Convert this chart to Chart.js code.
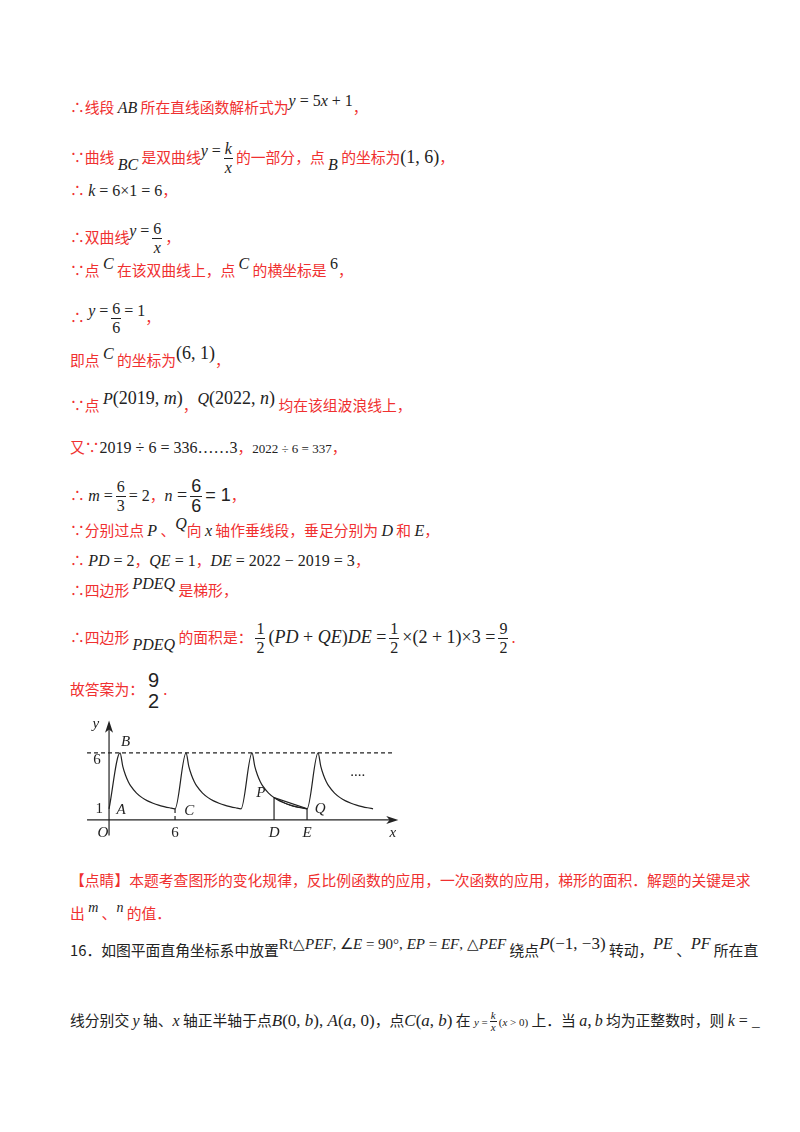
<!DOCTYPE html>
<html><head><meta charset="utf-8">
<script src="https://cdn.jsdelivr.net/npm/chart.js@4"></script>
<style>
body{margin:0;background:#fff;width:800px;height:1132px;position:relative;font-family:"Noto Sans CJK SC",sans-serif;}
.l{position:absolute;left:70px;font-size:14.8px;color:#f03030;white-space:nowrap;line-height:20px;}
.m{font-family:"Liberation Serif",serif;font-style:italic;color:#222;font-size:16px;}
.n{font-family:"Liberation Serif",serif;color:#222;font-size:16px;}
.f{display:inline-block;vertical-align:middle;text-align:center;font-family:"Liberation Serif",serif;color:#222;font-size:16px;line-height:18px;margin:0 3px;}
.f span{display:block;}
.f .t{border-bottom:1px solid #222;padding:0 1px;}
.sub{position:relative;top:7px;}
.sup{position:relative;top:-7px;}
#c{position:absolute;left:80px;top:720px;}
</style></head><body>
<div class="l" style="top:97px">∴线段 <span class="m">AB</span> 所在直线函数解析式为<span class="m sup">y</span><span class="n sup"> = 5</span><span class="m sup">x</span><span class="n sup"> + 1</span>，</div>
<div class="l" style="top:140px">∵曲线 <span class="m sub">BC</span> 是双曲线<span class="m sup">y</span><span class="n sup"> =</span><span class="f"><span class="t m">k</span><span class="m">x</span></span>的一部分，点 <span class="m sub">B</span> 的坐标为<span class="n" style="font-size:18px">(1, 6)</span>，</div>
<div class="l" style="top:180px">∴ <span class="m">k</span><span class="n"> = 6×1 = 6</span>，</div>
<div class="l" style="top:220px">∴双曲线<span class="m sup">y</span><span class="n sup"> =</span><span class="f"><span class="t">6</span><span class="m">x</span></span>，</div>
<div class="l" style="top:260px">∵点 <span class="m sup">C</span> 在该双曲线上，点 <span class="m sup">C</span> 的横坐标是 <span class="n sup">6</span>，</div>
<div class="l" style="top:300px">∴ <span class="m sup">y</span><span class="n sup"> =</span><span class="f"><span class="t">6</span><span>6</span></span><span class="n sup">= 1</span>，</div>
<div class="l" style="top:350px">即点 <span class="m sup">C</span> 的坐标为<span class="n sup" style="font-size:18px">(6, 1)</span>，</div>
<div class="l" style="top:395px">∵点 <span class="m sup">P</span><span class="n sup" style="font-size:18px">(2019, <i>m</i>)</span>，<span class="m sup">Q</span><span class="n sup" style="font-size:18px">(2022, <i>n</i>)</span> 均在该组波浪线上，</div>
<div class="l" style="top:437px">又∵<span class="n">2019 ÷ 6 = 336……3</span>，<span class="n" style="font-size:13px">2022 ÷ 6 = 337</span>，</div>
<div class="l" style="top:477px">∴ <span class="m">m</span><span class="n"> =</span><span class="f"><span class="t">6</span><span>3</span></span><span class="n">= 2</span>，<span class="m">n</span><span class="n" style="font-size:18px"> =</span><span class="f" style="font-size:18px;line-height:19px;font-family:'Liberation Sans'"><span class="t">6</span><span>6</span></span><span class="n" style="font-size:18px;font-family:'Liberation Sans'">= 1</span>，</div>
<div class="l" style="top:520px">∵分别过点 <span class="m">P</span> 、<span class="m sup">Q</span>向 <span class="m">x</span> 轴作垂线段，垂足分别为 <span class="m">D</span> 和 <span class="m">E</span>，</div>
<div class="l" style="top:550px">∴ <span class="m">PD</span><span class="n"> = 2</span>，<span class="m">QE</span><span class="n"> = 1</span>，<span class="m">DE</span><span class="n"> = 2022 − 2019 = 3</span>，</div>
<div class="l" style="top:580px">∴四边形 <span class="m sup">PDEQ</span> 是梯形，</div>
<div class="l" style="top:620px">∴四边形 <span class="m sub">PDEQ</span> 的面积是：<span class="f"><span class="t">1</span><span>2</span></span><span class="n" style="font-size:18px">(<i>PD</i> + <i>QE</i>)<i>DE</i> =</span><span class="f"><span class="t">1</span><span>2</span></span><span class="n" style="font-size:18px">×(2 + 1)×3 =</span><span class="f"><span class="t">9</span><span>2</span></span>.</div>
<div class="l" style="top:670px">故答案为：<span class="f" style="font-size:20px;line-height:21px;font-family:'Liberation Sans'"><span class="t" style="border:none">9</span><span>2</span></span>.</div>
<canvas id="c" width="320" height="130"></canvas>
<div class="l" style="top:870px">【点睛】本题考查图形的变化规律，反比例函数的应用，一次函数的应用，梯形的面积．解题的关键是求</div>
<div class="l" style="top:903px">出 <span class="m sup" style="font-size:14px">m</span> 、<span class="m sup" style="font-size:14px">n</span> 的值．</div>
<div class="l" style="top:940px;color:#222">16．如图平面直角坐标系中放置<span class="n sup" style="font-size:15px">Rt△<i>PEF</i>, ∠<i>E</i> = 90°, <i>EP</i> = <i>EF</i>, △<i>PEF</i></span> 绕点<span class="n sup" style="font-size:17px"><i>P</i>(−1, −3)</span> 转动，<span class="m sup">PE</span> 、<span class="m sup">PF</span> 所在直</div>
<div class="l" style="top:1010px;color:#222">线分别交 <span class="m">y</span> 轴、<span class="m">x</span> 轴正半轴于点<span class="n" style="font-size:17px"><i>B</i>(0, <i>b</i>), <i>A</i>(<i>a</i>, 0)</span>，点<span class="n" style="font-size:17px"><i>C</i>(<i>a</i>, <i>b</i>)</span> 在 <span class="n" style="font-size:11px;vertical-align:middle"><i>y</i> =</span><span class="f" style="font-size:11px;line-height:11px;margin:0 2px"><span class="t m" style="font-size:11px">k</span><span class="m" style="font-size:11px">x</span></span><span class="n" style="font-size:11px;vertical-align:middle">(<i>x</i> &gt; 0)</span> 上．当 <span class="m">a</span>, <span class="m">b</span> 均为正整数时，则 <span class="m">k</span><span class="n"> = </span>_</div>
<script>
// one period of the wave: rise A(0,1)->B(1,6), then hyperbola y=6/x to (6,1)
const periodX = [0, 1, 1.25, 1.5, 1.75, 2, 2.5, 3, 3.5, 4, 4.5, 5, 5.5, 6];
const periodY = [1, 6, 4.8, 4, 3.43, 3, 2.4, 2, 1.71, 1.5, 1.33, 1.2, 1.09, 1];
const periodStarts = [0, 6, 12, 18];
const pointP = [15, 2];
const pointQ = [18, 1];
const xTickLabels = [["O", 0], ["6", 6], ["D", 15], ["E", 18]];
const wave = [];
periodStarts.forEach(s => periodX.forEach((x, i) => wave.push({x: s + x, y: periodY[i]})));
const overlay = {
  id: 'overlay',
  afterDatasetsDraw(ch) {
    const c = ch.ctx, X = v => ch.scales.x.getPixelForValue(v), Y = v => ch.scales.y.getPixelForValue(v);
    c.save(); c.strokeStyle = '#222'; c.fillStyle = '#222'; c.lineWidth = 1.2;
    c.beginPath(); c.moveTo(X(-2), Y(0)); c.lineTo(X(25.8), Y(0)); c.stroke();
    c.beginPath(); c.moveTo(X(0), Y(-1.4)); c.lineTo(X(0), Y(8.3)); c.stroke();
    c.beginPath(); c.moveTo(X(26.3), Y(0)); c.lineTo(X(25.2), Y(0) - 4); c.lineTo(X(25.5), Y(0)); c.lineTo(X(25.2), Y(0) + 4); c.fill();
    c.beginPath(); c.moveTo(X(0), Y(8.9)); c.lineTo(X(0) - 4, Y(7.8)); c.lineTo(X(0), Y(8.1)); c.lineTo(X(0) + 4, Y(7.8)); c.fill();
    c.setLineDash([4, 3]);
    c.beginPath(); c.moveTo(X(-2), Y(6)); c.lineTo(X(25.8), Y(6)); c.stroke();
    c.beginPath(); c.moveTo(X(6), Y(0)); c.lineTo(X(6), Y(1)); c.stroke();
    c.setLineDash([]);
    c.beginPath(); c.moveTo(X(pointP[0]), Y(0)); c.lineTo(X(pointP[0]), Y(pointP[1])); c.lineTo(X(pointQ[0]), Y(pointQ[1])); c.lineTo(X(pointQ[0]), Y(0)); c.stroke();
    c.textBaseline = 'middle'; c.textAlign = 'center';
    xTickLabels.forEach(([t, v]) => { c.font = (t === '6' ? '' : 'italic ') + '15px "Liberation Serif"'; c.fillText(t, X(v) + (v === 0 ? -6 : 0), Y(0) + 13); });
    c.font = 'italic 15px "Liberation Serif"';
    c.fillText('x', X(25.8), Y(0) + 13);
    c.fillText('y', X(-1.2), Y(8.6));
    c.fillText('B', X(1.5), Y(7));
    c.fillText('A', X(1.1), Y(0.9));
    c.fillText('C', X(7.3), Y(0.8));
    c.fillText('P', X(13.8), Y(2.4));
    c.fillText('Q', X(19.2), Y(1));
    c.font = '15px "Liberation Serif"';
    c.fillText('6', X(-1.1), Y(5.4));
    c.fillText('1', X(-0.9), Y(1));
    c.fillText('....', X(22.6), Y(4.3));
    c.restore();
  }
};
new Chart(document.getElementById('c'), {
  type: 'scatter',
  data: { datasets: [
    { data: wave, showLine: true, borderColor: '#222', borderWidth: 1.2, pointRadius: 0, tension: 0.3, cubicInterpolationMode: 'monotone' },
    { data: [{x: pointP[0], y: pointP[1]}, {x: 16.5, y: 1.3}, {x: pointQ[0], y: pointQ[1]}], showLine: true, borderColor: '#222', borderWidth: 1, pointRadius: 0, tension: 0.4 }
  ]},
  options: {
    responsive: false, animation: false, events: [],
    layout: { padding: 0 },
    plugins: { legend: { display: false }, tooltip: { enabled: false } },
    scales: {
      x: { type: 'linear', display: false, min: -2.64, max: 26.45 },
      y: { type: 'linear', display: false, min: -2.69, max: 8.95 }
    }
  },
  plugins: [overlay]
});
</script>
</body></html>
